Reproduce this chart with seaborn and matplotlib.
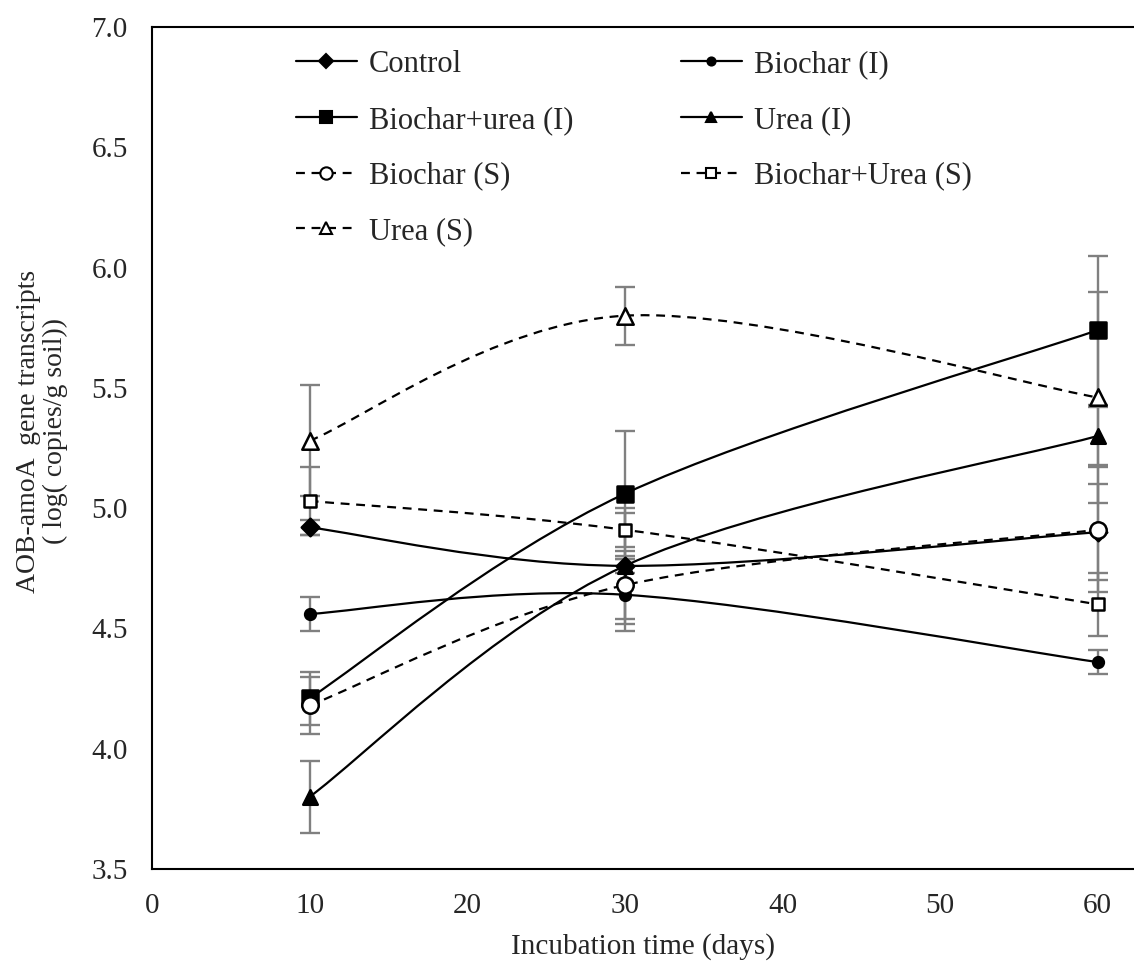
import numpy as np
import seaborn as sns
import matplotlib.pyplot as plt
from matplotlib.path import Path
from matplotlib.patches import PathPatch
from matplotlib.lines import Line2D

# incubation days
days = [10, 30, 60]

# mean log copies and error
control = [4.92, 4.76, 4.90]
control_err = [0.03, 0.03, 0.20]
biochar_i = [4.56, 4.64, 4.36]
biochar_i_err = [0.07, 0.15, 0.05]
biochar_urea_i = [4.21, 5.06, 5.74]
biochar_urea_i_err = [0.11, 0.26, 0.31]
urea_i = [3.80, 4.76, 5.30]
urea_i_err = [0.15, 0.24, 0.12]
biochar_s = [4.18, 4.68, 4.91]
biochar_s_err = [0.12, 0.14, 0.26]
biochar_urea_s = [5.03, 4.91, 4.60]
biochar_urea_s_err = [0.14, 0.07, 0.13]
urea_s = [5.28, 5.80, 5.46]
urea_s_err = [0.23, 0.12, 0.44]

sns.set_style('white')
plt.rcParams['font.family'] = ['Liberation Serif', 'DejaVu Serif']

fig = plt.figure(figsize=(11.34, 9.61), dpi=100)
ax = fig.add_axes([152 / 1134, 1 - 869 / 961, 1 - 152 / 1134, (869 - 27) / 961])

dash = (0, (4, 3))


def smooth(xs, ys):
    # excel style smoothed line as bezier segments
    p = np.column_stack([xs, ys]).astype(float)
    n = len(p)
    verts = [p[0]]
    codes = [Path.MOVETO]
    for i in range(n - 1):
        prev = p[i - 1] if i > 0 else p[i]
        nxt = p[i + 2] if i + 2 < n else p[i + 1]
        verts += [p[i] + (p[i + 1] - prev) / 6, p[i + 1] - (nxt - p[i]) / 6, p[i + 1]]
        codes += [Path.CURVE4] * 3
    return Path(verts, codes)


series = [
    ('Control', control, control_err, 'D', 80, 'black', '-'),
    ('Biochar (I)', biochar_i, biochar_i_err, 'o', 60, 'black', '-'),
    ('Biochar+urea (I)', biochar_urea_i, biochar_urea_i_err, 's', 120, 'black', '-'),
    ('Urea (I)', urea_i, urea_i_err, '^', 110, 'black', '-'),
    ('Biochar (S)', biochar_s, biochar_s_err, 'o', 140, 'white', dash),
    ('Biochar+Urea (S)', biochar_urea_s, biochar_urea_s_err, 's', 75, 'white', dash),
    ('Urea (S)', urea_s, urea_s_err, '^', 140, 'white', dash),
]

handles = {}
for name, vals, errs, mk, size, fc, ls in series:
    ax.errorbar(days, vals, yerr=errs, fmt='none', ecolor='#808080',
                elinewidth=1.7, capsize=7, capthick=1.7, zorder=1)
    ax.add_patch(PathPatch(smooth(days, vals), facecolor='none', edgecolor='black',
                           linewidth=1.6, linestyle=ls, zorder=2))
    sns.scatterplot(x=days, y=vals, marker=mk, s=size, color=fc, edgecolor='black',
                    linewidth=1.8, zorder=3, ax=ax, legend=False)
    handles[name] = Line2D([], [], color='black', lw=1.6, ls=ls, marker=mk,
                           markersize=np.sqrt(size) * 0.75, markerfacecolor=fc,
                           markeredgecolor='black', markeredgewidth=1.5)

order = ['Control', 'Biochar+urea (I)', 'Biochar (S)', 'Urea (S)',
         'Biochar (I)', 'Urea (I)', 'Biochar+Urea (S)']
ax.legend([handles[k] for k in order], order, ncol=2, frameon=False,
          loc='upper left', bbox_to_anchor=(0.134, 0.987), borderaxespad=0,
          handlelength=2.0, handletextpad=0.4, columnspacing=3.5,
          labelspacing=0.87, fontsize=22)

ax.set_xlim(0, 62.3)
ax.set_ylim(3.5, 7.0)
ax.set_xticks([0, 10, 20, 30, 40, 50, 60])
ax.set_yticks(np.arange(3.5, 7.01, 0.5))
ax.yaxis.set_major_formatter(plt.FormatStrFormatter('%.1f'))
ax.tick_params(axis='both', length=0, labelsize=21, pad=17.5)
for side in ['left', 'bottom', 'top']:
    ax.spines[side].set_color('black')
    ax.spines[side].set_linewidth(1.5)
ax.spines['right'].set_visible(False)

ax.set_xlabel('Incubation time (days)', fontsize=21, labelpad=10)
ax.set_ylabel('AOB-amoA  gene transcripts\n( log( copies/g soil))', fontsize=20,
              labelpad=17, linespacing=1.05)
ax.yaxis.label.set_y(0.52)

fig.savefig('out.png', dpi=100)
